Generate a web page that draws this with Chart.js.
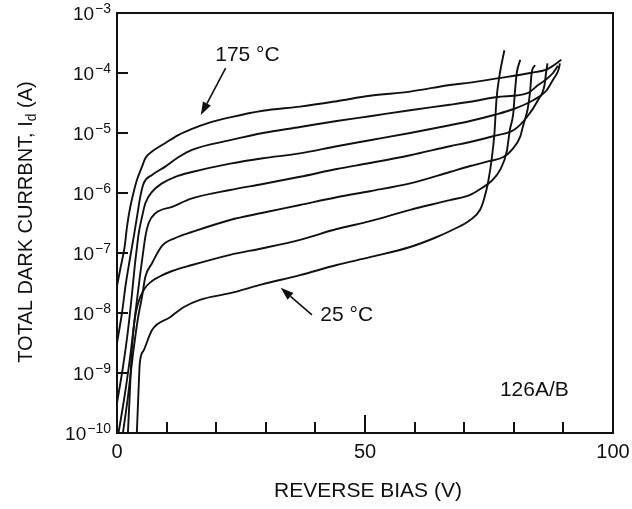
<!DOCTYPE html>
<html>
<head>
<meta charset="utf-8">
<script src="https://cdn.jsdelivr.net/npm/chart.js@4/dist/chart.umd.min.js"></script>
<style>
  html, body { margin: 0; padding: 0; background: #fff; }
  #wrap { width: 632px; height: 509px; }
</style>
</head>
<body>
<div id="wrap"><canvas id="c" width="632" height="509"></canvas></div>
<script>
// Reverse bias (V) and log10 of total dark current (A), one pair of arrays per temperature.
const bias175 = [0, 0.7, 1.55, 2.02, 2.68, 3.37, 4.03, 5.04, 5.71, 7.06, 9.68, 12.44, 15.12, 18.5, 22.8, 29.4, 36.9, 44.3, 51, 59.1, 67.1, 71.2, 76.6, 83.3, 86.9, 89.6];
const log175  = [-7.55, -7.25, -6.89, -6.56, -6.23, -5.98, -5.78, -5.56, -5.42, -5.31, -5.17, -5.03, -4.93, -4.83, -4.74, -4.63, -4.56, -4.47, -4.38, -4.31, -4.2, -4.16, -4.09, -4.0, -3.93, -3.78];

const bias150 = [0, 1.0, 1.8, 2.6, 3.37, 4.03, 4.7, 5.38, 7.06, 9.74, 12.44, 15.12, 22.8, 29.4, 36.9, 44.3, 51, 59.1, 67.1, 71.2, 76.6, 82.9, 84.9, 86.3, 87.9, 88.9];
const log150  = [-8.5, -8.0, -7.5, -7.1, -6.73, -6.4, -6.06, -5.84, -5.7, -5.56, -5.4, -5.28, -5.12, -5.0, -4.9, -4.8, -4.72, -4.62, -4.53, -4.48, -4.4, -4.33, -4.2, -4.12, -4.0, -3.88];

const bias125 = [0, 1.2, 2.2, 3.0, 3.6, 4.03, 4.38, 5.04, 5.71, 7.06, 9.07, 11.75, 15.12, 22.8, 29.4, 36.9, 44.3, 51, 59.1, 67.1, 71.2, 76, 80, 84, 86.5, 88, 89, 89.3];
const log125  = [-9.5, -8.9, -8.3, -7.7, -7.2, -6.9, -6.67, -6.4, -6.17, -5.98, -5.84, -5.73, -5.65, -5.51, -5.42, -5.34, -5.22, -5.12, -5.0, -4.87, -4.8, -4.7, -4.6, -4.45, -4.3, -4.1, -3.95, -3.84];

const bias100 = [0.3, 1.5, 2.7, 3.7, 4.6, 5.38, 5.71, 6.39, 7.72, 11.1, 15.12, 22.8, 29.4, 36.9, 44.3, 51, 59.1, 67.1, 71.2, 76, 80, 82.5, 84.9, 86.2, 86.5, 86.8];
const log100  = [-10, -9.4, -8.7, -8.0, -7.4, -6.92, -6.73, -6.5, -6.34, -6.23, -6.09, -5.95, -5.85, -5.73, -5.6, -5.5, -5.37, -5.22, -5.15, -5.05, -4.95, -4.75, -4.45, -4.2, -4.0, -3.84];

const bias75 = [1.2, 2.2, 3.2, 4.2, 5.04, 5.71, 7.06, 9.07, 11.75, 15.12, 22.8, 29.4, 36.9, 44.3, 51, 59.1, 67.1, 71.2, 75, 77.9, 79.6, 81.3, 81.9, 82.8, 83.3, 83.6, 84.3];
const log75  = [-10, -9.4, -8.7, -8.1, -7.73, -7.4, -7.17, -6.88, -6.75, -6.65, -6.45, -6.33, -6.2, -6.07, -5.97, -5.84, -5.65, -5.55, -5.47, -5.4, -5.28, -5.06, -4.87, -4.6, -4.3, -4.0, -3.87];

const bias50 = [2.2, 2.6, 3.0, 3.5, 4.2, 5.5, 7.0, 8.41, 11.1, 15.12, 22.8, 29.4, 36.9, 44.3, 51, 59.1, 67.1, 71.2, 73.5, 75.5, 77.2, 78.6, 79.2, 79.9, 80.2, 80.6, 81.3];
const log50  = [-10, -9.3, -8.6, -8.15, -7.85, -7.6, -7.47, -7.4, -7.3, -7.2, -7.03, -6.92, -6.78, -6.6, -6.47, -6.28, -6.12, -6.03, -5.92, -5.8, -5.62, -5.3, -4.95, -4.67, -4.34, -4.0, -3.78];

const bias25 = [4.0, 4.4, 4.6, 5.4, 7.1, 10.7, 13.5, 16.7, 22.8, 29.4, 36.9, 44.3, 51, 59.1, 64, 68, 71.2, 73.2, 74, 74.8, 75.6, 76.1, 76.5, 77.1, 78.1];
const log25  = [-10, -9.17, -8.83, -8.62, -8.28, -8.07, -7.9, -7.78, -7.67, -7.52, -7.37, -7.2, -7.07, -6.9, -6.75, -6.6, -6.45, -6.28, -6.1, -5.83, -5.4, -5.0, -4.45, -4.05, -3.62];

// Axis ticks and labels
const xTickValues   = [10, 20, 30, 40, 50, 60, 70, 80, 90];
const xLabelValues  = [0, 50, 100];
const yDecadeExps   = [-3, -4, -5, -6, -7, -8, -9, -10];

const curveBias = [bias175, bias150, bias125, bias100, bias75, bias50, bias25];
const curveLog  = [log175, log150, log125, log100, log75, log50, log25];
const curveTemps = ['175 °C', '150 °C', '125 °C', '100 °C', '75 °C', '50 °C', '25 °C'];

const FONT = '"Liberation Sans", Arial, Helvetica, sans-serif';

const datasets = curveBias.map((b, k) => ({
  label: curveTemps[k],
  data: b.map((v, i) => ({ x: v, y: Math.pow(10, curveLog[k][i]) })),
  borderColor: '#111',
  borderWidth: 1.9,
  pointRadius: 0,
  fill: false,
  cubicInterpolationMode: 'monotone'
}));

function arrow(ctx, x1, y1, x2, y2) {
  // shaft from (x1,y1) to the head tip at (x2,y2)
  const ang = Math.atan2(y2 - y1, x2 - x1);
  const headLen = 13, headHalf = 4.5;
  const bx = x2 - headLen * Math.cos(ang), by = y2 - headLen * Math.sin(ang);
  ctx.beginPath();
  ctx.moveTo(x1, y1);
  ctx.lineTo(bx, by);
  ctx.lineWidth = 1.6;
  ctx.stroke();
  ctx.beginPath();
  ctx.moveTo(x2, y2);
  ctx.lineTo(bx + headHalf * Math.sin(ang), by - headHalf * Math.cos(ang));
  ctx.lineTo(bx - headHalf * Math.sin(ang), by + headHalf * Math.cos(ang));
  ctx.closePath();
  ctx.fill();
}

const axesPlugin = {
  id: 'axesDecor',
  afterDraw(chart) {
    const ctx = chart.ctx;
    const a = chart.chartArea;
    const xs = chart.scales.x, ys = chart.scales.y;
    ctx.save();
    ctx.strokeStyle = '#111';
    ctx.fillStyle = '#111';

    // frame
    ctx.lineWidth = 2;
    ctx.strokeRect(a.left, a.top, a.right - a.left, a.bottom - a.top);

    // inward tick marks
    ctx.lineWidth = 2;
    xTickValues.forEach(v => {
      const px = Math.round(xs.getPixelForValue(v));
      const len = (v === 50) ? 18 : 11;
      ctx.beginPath();
      ctx.moveTo(px, a.bottom);
      ctx.lineTo(px, a.bottom - len);
      ctx.stroke();
    });
    yDecadeExps.forEach(e => {
      const py = Math.round(ys.getPixelForValue(Math.pow(10, e)));
      ctx.beginPath();
      ctx.moveTo(a.left, py);
      ctx.lineTo(a.left + 11, py);
      ctx.stroke();
    });

    // x tick labels
    ctx.font = '20px ' + FONT;
    ctx.textAlign = 'center';
    ctx.textBaseline = 'alphabetic';
    xLabelValues.forEach(v => {
      ctx.fillText(String(v), xs.getPixelForValue(v), a.bottom + 25);
    });

    // y tick labels: 10 with a raised exponent
    yDecadeExps.forEach(e => {
      const py = ys.getPixelForValue(Math.pow(10, e));
      const expTxt = '\u2212' + String(-e);
      ctx.font = '14px ' + FONT;
      const ew = ctx.measureText(expTxt).width;
      ctx.font = '19px ' + FONT;
      const bw = ctx.measureText('10').width;
      const right = 111;
      const bx = right - ew - 1 - bw;
      ctx.textAlign = 'left';
      ctx.fillText('10', bx, py + 7);
      ctx.font = '14px ' + FONT;
      ctx.fillText(expTxt, bx + bw + 1, py);
    });

    // x axis title
    ctx.font = '21px ' + FONT;
    ctx.textAlign = 'center';
    ctx.fillText('REVERSE BIAS (V)', 368, 497);

    // y axis title with subscript
    ctx.save();
    ctx.translate(32, 222);
    ctx.rotate(-Math.PI / 2);
    const p1 = 'TOTAL DARK CURRBNT, I', p2 = 'd', p3 = ' (A)';
    ctx.font = '20px ' + FONT;
    const w1 = ctx.measureText(p1).width, w3 = ctx.measureText(p3).width;
    ctx.font = '14px ' + FONT;
    const w2 = ctx.measureText(p2).width;
    const sx = -(w1 + w2 + w3) / 2;
    ctx.textAlign = 'left';
    ctx.font = '20px ' + FONT;
    ctx.fillText(p1, sx, 0);
    ctx.font = '14px ' + FONT;
    ctx.fillText(p2, sx + w1, 4);
    ctx.font = '20px ' + FONT;
    ctx.fillText(p3, sx + w1 + w2, 0);
    ctx.restore();

    // curve annotations
    const P = (v, e) => [xs.getPixelForValue(v), ys.getPixelForValue(Math.pow(10, e))];
    ctx.font = '21px ' + FONT;
    ctx.textAlign = 'left';
    ctx.textBaseline = 'middle';
    let q = P(19.8, -3.7);
    ctx.fillText('175 \u00B0C', q[0], q[1]);
    let t1 = P(21.9, -3.92), t2 = P(16.9, -4.7);
    arrow(ctx, t1[0], t1[1], t2[0], t2[1]);

    q = P(41.0, -8.03);
    ctx.fillText('25 \u00B0C', q[0], q[1]);
    t1 = P(39.3, -8.03); t2 = P(33.0, -7.58);
    arrow(ctx, t1[0], t1[1], t2[0], t2[1]);

    q = P(77.2, -9.28);
    ctx.fillText('126A/B', q[0], q[1]);

    ctx.restore();
  }
};

new Chart(document.getElementById('c'), {
  type: 'line',
  data: { datasets },
  options: {
    responsive: false,
    animation: false,
    events: [],
    layout: { padding: { top: 13, right: 19, left: 0, bottom: 0 } },
    plugins: { legend: { display: false }, tooltip: { enabled: false } },
    scales: {
      x: {
        type: 'linear', min: 0, max: 100,
        grid: { display: false }, border: { display: false },
        ticks: { display: false },
        afterFit(s) { s.height = 76; }
      },
      y: {
        type: 'logarithmic', min: 1e-10, max: 1e-3,
        grid: { display: false }, border: { display: false },
        ticks: { display: false },
        afterFit(s) { s.width = 117; }
      }
    }
  },
  plugins: [axesPlugin]
});
</script>
</body>
</html>
